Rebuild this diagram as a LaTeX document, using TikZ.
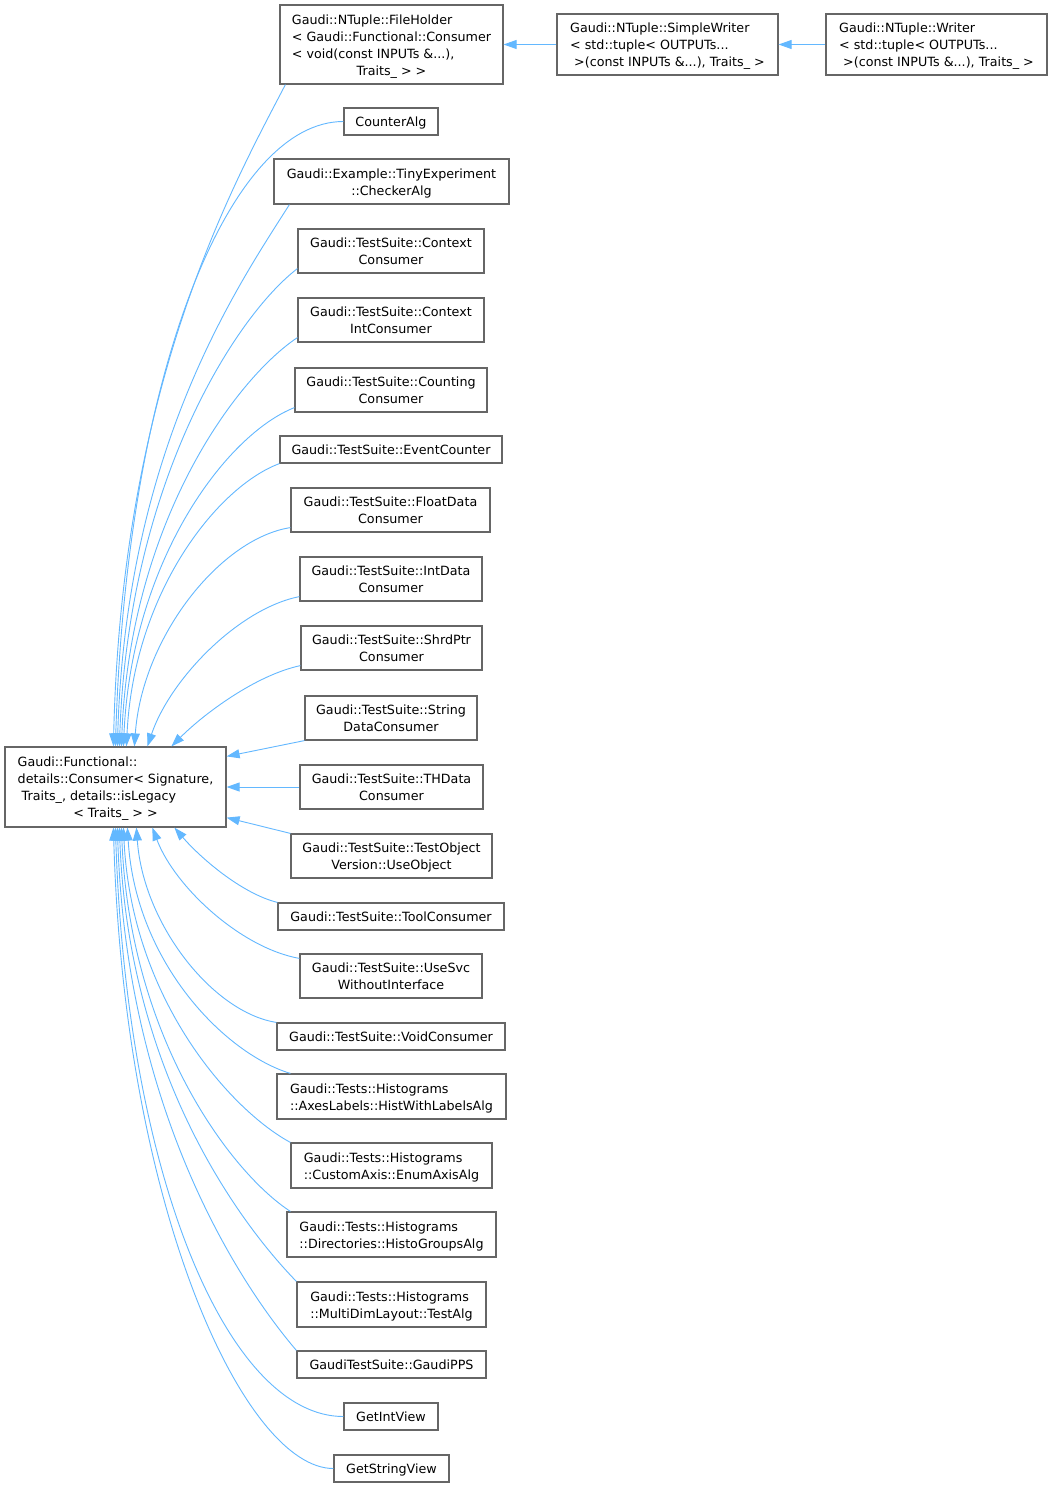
\documentclass[tikz,border=0pt]{standalone}
\usepackage{fontspec}
\setmainfont{DejaVu Sans}
\usetikzlibrary{arrows.meta,calc}
\definecolor{edgeblue}{HTML}{63B8FF}
\definecolor{boxgray}{HTML}{666666}
\newcommand\lbl[2]{\raisebox{-1.8pt}[\height][\depth]{\begin{tabular}{@{}l@{}}#1\\\multicolumn{1}{@{}c@{}}{#2}\end{tabular}}}
\newcommand\one[1]{\raisebox{-1.8pt}[\height][\depth]{\begin{tabular}{@{}c@{}}#1\end{tabular}}}
\newcommand\cedge[6]{\draw[edge] let \p1=(#1), \p2=(#2) in (\p1) .. controls ({\x1+#3*(\x2-\x1)},{\y1+#4*(\y2-\y1)}) and ({\x1+#5*(\x2-\x1)},{\y1+#6*(\y2-\y1)}) .. (\p2);}
\begin{document}
\begin{tikzpicture}[x=1pt,y=-1pt,
  box/.style={draw=boxgray, fill=white, line width=1.2pt, inner sep=0pt,
    font=\fontsize{12.7}{17}\selectfont},
  edge/.style={draw=edgeblue, line width=0.9pt, -{Triangle[length=13pt,width=9pt]}}]
\useasboundingbox (0,0) rectangle (1053,1488);
\fill[white] (0,0) rectangle (1053,1488);

\node[box, minimum width=221pt, minimum height=80pt] (n0) at (115.5,787) {\lbl{Gaudi::Functional::\\details::Consumer< Signature,\\\hspace*{4pt}Traits\_, details::isLegacy}{< Traits\_ > >}};

\node[box, minimum width=223pt, minimum height=79pt] (n1) at (391.5,44.5) {\lbl{Gaudi::NTuple::FileHolder\\< Gaudi::Functional::Consumer\\< void(const INPUTs \&...),}{Traits\_ > >}};
\node[box, minimum width=221pt, minimum height=61pt] (n2) at (667.5,44.5) {\lbl{Gaudi::NTuple::SimpleWriter\\< std::tuple< OUTPUTs...}{\ >(const INPUTs \&...), Traits\_ >}};
\node[box, minimum width=221pt, minimum height=61pt] (n3) at (936.5,44.5) {\lbl{Gaudi::NTuple::Writer\\< std::tuple< OUTPUTs...}{\ >(const INPUTs \&...), Traits\_ >}};
\node[box, minimum width=94pt, minimum height=27pt] (n4) at (391,121.5) {\one{CounterAlg}};
\node[box, minimum width=235pt, minimum height=45pt] (n5) at (391.5,181.5) {\lbl{Gaudi::Example::TinyExperiment}{::CheckerAlg}};
\node[box, minimum width=186pt, minimum height=44pt] (n6) at (391,251) {\lbl{Gaudi::TestSuite::Context}{Consumer}};
\node[box, minimum width=186pt, minimum height=44pt] (n7) at (391,320) {\lbl{Gaudi::TestSuite::Context}{IntConsumer}};
\node[box, minimum width=192pt, minimum height=44pt] (n8) at (391,390) {\lbl{Gaudi::TestSuite::Counting}{Consumer}};
\node[box, minimum width=222pt, minimum height=27pt] (n9) at (391,449.5) {\one{Gaudi::TestSuite::EventCounter}};
\node[box, minimum width=199pt, minimum height=44pt] (n10) at (390.5,510) {\lbl{Gaudi::TestSuite::FloatData}{Consumer}};
\node[box, minimum width=182pt, minimum height=44pt] (n11) at (391,579) {\lbl{Gaudi::TestSuite::IntData}{Consumer}};
\node[box, minimum width=181pt, minimum height=44pt] (n12) at (391.5,648) {\lbl{Gaudi::TestSuite::ShrdPtr}{Consumer}};
\node[box, minimum width=172pt, minimum height=44pt] (n13) at (391,718) {\lbl{Gaudi::TestSuite::String}{DataConsumer}};
\node[box, minimum width=183pt, minimum height=44pt] (n14) at (391.5,787) {\lbl{Gaudi::TestSuite::THData}{Consumer}};
\node[box, minimum width=201pt, minimum height=44pt] (n15) at (391.5,856) {\lbl{Gaudi::TestSuite::TestObject}{Version::UseObject}};
\node[box, minimum width=226pt, minimum height=27pt] (n16) at (391,916.5) {\one{Gaudi::TestSuite::ToolConsumer}};
\node[box, minimum width=182pt, minimum height=44pt] (n17) at (391,976) {\lbl{Gaudi::TestSuite::UseSvc}{WithoutInterface}};
\node[box, minimum width=228pt, minimum height=27pt] (n18) at (391,1036.5) {\one{Gaudi::TestSuite::VoidConsumer}};
\node[box, minimum width=229pt, minimum height=45pt] (n19) at (391.5,1096.5) {\lbl{Gaudi::Tests::Histograms}{::AxesLabels::HistWithLabelsAlg}};
\node[box, minimum width=201pt, minimum height=45pt] (n20) at (391.5,1165.5) {\lbl{Gaudi::Tests::Histograms}{::CustomAxis::EnumAxisAlg}};
\node[box, minimum width=209pt, minimum height=45pt] (n21) at (391.5,1234.5) {\lbl{Gaudi::Tests::Histograms}{::Directories::HistoGroupsAlg}};
\node[box, minimum width=189pt, minimum height=45pt] (n22) at (391.5,1304.5) {\lbl{Gaudi::Tests::Histograms}{::MultiDimLayout::TestAlg}};
\node[box, minimum width=189pt, minimum height=27pt] (n23) at (391.5,1364.5) {\one{GaudiTestSuite::GaudiPPS}};
\node[box, minimum width=94pt, minimum height=27pt] (n24) at (391,1416.5) {\one{GetIntView}};
\node[box, minimum width=115pt, minimum height=27pt] (n25) at (391.5,1468.5) {\one{GetStringView}};

% horizontal edges
\draw[edge] (n2.west) -- (n1.east);
\draw[edge] (n3.west) -- (n2.east);

% upper edges to base top
\cedge{[xshift=6pt]n1.south west}{[xshift=109pt]n0.north west}{0.3}{0.15}{0.95}{0.45}
\cedge{n4.west}{[xshift=111pt]n0.north west}{0.5}{0.0}{0.95}{0.4}
\cedge{[xshift=16pt]n5.south west}{[xshift=113pt]n0.north west}{0.3}{0.15}{0.95}{0.45}
\cedge{[yshift=5pt]n6.south west}{[xshift=115pt]n0.north west}{0.35}{0.1}{0.95}{0.45}
\cedge{[yshift=5pt]n7.south west}{[xshift=117pt]n0.north west}{0.35}{0.1}{0.95}{0.45}
\cedge{[yshift=5pt]n8.south west}{[xshift=119pt]n0.north west}{0.4}{0.08}{0.95}{0.45}
\cedge{n9.south west}{[xshift=122pt]n0.north west}{0.4}{0.08}{0.95}{0.45}
\cedge{[yshift=5pt]n10.south west}{[xshift=130pt]n0.north west}{0.45}{0.05}{0.95}{0.5}
\cedge{[yshift=5pt]n11.south west}{[xshift=143pt]n0.north west}{0.4}{0.08}{0.85}{0.55}
\cedge{[yshift=5pt]n12.south west}{[xshift=167pt]n0.north west}{0.35}{0.12}{0.75}{0.6}

% side edges
\draw[edge] (n13.south west) -- ([yshift=-10pt]n0.north east);
\draw[edge] (n14.west) -- (n0.east);
\draw[edge] (n15.north west) -- ([yshift=10pt]n0.south east);

% lower edges to base bottom
\cedge{n16.north west}{[xshift=170pt]n0.south west}{0.35}{0.12}{0.75}{0.6}
\cedge{[yshift=-5pt]n17.north west}{[xshift=148pt]n0.south west}{0.4}{0.08}{0.85}{0.55}
\cedge{n18.north west}{[xshift=132pt]n0.south west}{0.45}{0.05}{0.95}{0.5}
\cedge{[xshift=14pt]n19.north west}{[xshift=123pt]n0.south west}{0.4}{0.08}{0.95}{0.45}
\cedge{n20.north west}{[xshift=119pt]n0.south west}{0.35}{0.1}{0.95}{0.45}
\cedge{[xshift=4pt]n21.north west}{[xshift=117pt]n0.south west}{0.35}{0.1}{0.95}{0.45}
\cedge{n22.north west}{[xshift=115pt]n0.south west}{0.3}{0.12}{0.95}{0.45}
\cedge{n23.north west}{[xshift=113pt]n0.south west}{0.3}{0.12}{0.95}{0.45}
\cedge{n24.west}{[xshift=111pt]n0.south west}{0.5}{0.0}{0.95}{0.4}
\cedge{n25.west}{[xshift=109pt]n0.south west}{0.4}{0.0}{0.95}{0.4}
\end{tikzpicture}
\end{document}
